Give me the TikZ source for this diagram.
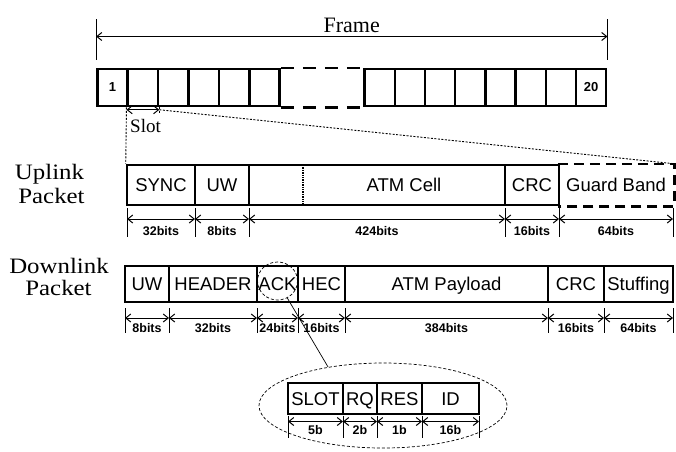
\documentclass[tikz,border=0pt]{standalone}
\usepackage{fontspec}
\setmainfont{Liberation Serif}
\setsansfont{Liberation Sans}
\newfontfamily\wideserif[FakeStretch=1.13]{Liberation Serif}
\usetikzlibrary{arrows.meta,shapes.geometric,calc}
\newcommand\mkcell[7][]{\node[cell,#1,minimum width={(#4-#3)*1pt},minimum height={(#6-#5)*1pt}] (#2) at ({(#3+#4)/2},{(#5+#6)/2}) {#7};}
\begin{document}
\begin{tikzpicture}[x=1pt,y=-1pt,
 cell/.style={draw, line width=2.5pt, rectangle, inner sep=0pt, font=\sffamily\fontsize{18.5}{18.5}\selectfont, text height=13.2pt, text depth=0pt},
 slotbox/.style={draw, line width=2.5pt, inner sep=0pt, minimum width=30.4pt, minimum height=37pt, font=\sffamily\bfseries\fontsize{13}{13}\selectfont},
 dimline/.style={line width=1pt, {Straight Barb[length=5pt,width=8pt]}-{Straight Barb[length=5pt,width=8pt]}},
 tick/.style={line width=0.8pt},
 dimlbl/.style={font=\sffamily\bfseries\fontsize{12.5}{12.5}\selectfont, below=#1, inner sep=0pt},
 proj/.style={line width=0.9pt, dash pattern=on 2pt off 1.5pt},
 biglbl/.style={font=\wideserif\fontsize{22}{22}\selectfont, anchor=base, inner sep=0pt}
]
\useasboundingbox (0,0) rectangle (676,451);

% ---------- frame slots ----------
\node[slotbox] (s1) at (112.5,87.5) {1};
\foreach \i in {2,...,6} \node[slotbox] (s\i) at ({112.5+30.4*(\i-1)},87.5) {};
\foreach \i in {7,...,13} \node[slotbox, minimum width=30.2pt] (s\i) at ({379.7+30.2*(\i-7)},87.5) {};
\node[slotbox, minimum width=30.2pt] (s14) at ({379.7+30.2*7},87.5) {20};
\draw[line width=2.5pt, dash pattern=on 13pt off 9pt] (s6.north east) -- (s7.north west);
\draw[line width=2.5pt, dash pattern=on 13pt off 9pt] (s6.south east) -- (s7.south west);

% ---------- frame dimension ----------
\coordinate (fL) at (s1.north west |- 0,36.5);
\coordinate (fR) at (s14.north east |- 0,36.5);
\draw[tick] ($(fL)+(0,-17.5)$) -- ($(fL)+(0,23.5)$);
\draw[tick] ($(fR)+(0,-17.5)$) -- ($(fR)+(0,23.5)$);
\draw[dimline] (fL) -- node[above=3.5pt, inner sep=0pt, font=\rmfamily\fontsize{22}{22}\selectfont] (framelbl) {Frame} (fR);

% ---------- uplink packet ----------
\mkcell{sync}{127}{195}{165}{205}{SYNC}
\mkcell{ulUW}{195}{249}{165}{205}{UW}
\mkcell{ulatm}{249}{505}{165}{205}{}
\mkcell{ulcrc}{505}{559}{165}{205}{CRC}
\mkcell[draw=none]{gb}{559}{673}{165}{205}{Guard Band}
\node[cell, draw=none] (ulatmlbl) at (404,185) {ATM Cell};
\draw[line width=1.4pt, densely dotted] (303,165) -- (303,205);
\draw[line width=2.5pt, dash pattern=on 10pt off 6pt] (gb.north west) -- (gb.north east) -- (gb.south east) -- (gb.south west);

% slot dimension and projection
\coordinate (slA) at ($(s2.south west)+(0,2.5)$);
\coordinate (slB) at ($(s2.south east)+(0,2.5)$);
\draw[proj] (s2.south west) -- (sync.north west);
\draw[proj] (s2.south east) -- ($(s2.south east)+(0,6)$);
\draw[dimline] (slA) -- (slB);
\draw[proj] (slB) -- (gb.north east);
\node[font=\rmfamily\fontsize{19}{19}\selectfont, anchor=base, inner sep=0pt] (slotlbl) at (145.5,132) {Slot};

% uplink dims
\foreach \n/\x in {u0/127,u1/195,u2/249,u3/505,u4/559,u5/673}{
  \coordinate (\n) at (\x,219);
  \draw[tick] ($(\n)+(0,-11)$) -- ($(\n)+(0,18)$);
}
\draw[dimline] (u0) -- node[dimlbl=7pt] {32bits} (u1);
\draw[dimline] (u1) -- node[dimlbl=7pt] {8bits} (u2);
\draw[dimline] (u2) -- node[dimlbl=7pt] {424bits} (u3);
\draw[dimline] (u3) -- node[dimlbl=7pt] {16bits} (u4);
\draw[dimline] (u4) -- node[dimlbl=7pt] {64bits} (u5);

\node[biglbl] (upl1) at (49.5,179) {Uplink};
\node[biglbl] (upl2) at (51.5,203) {Packet};

% ---------- downlink packet ----------
\mkcell{dlUW}{125}{169}{266}{302}{UW}
\mkcell{hdr}{169}{257}{266}{302}{HEADER}
\mkcell{ack}{257}{298}{266}{302}{ACK}
\mkcell{hec}{298}{345}{266}{302}{HEC}
\mkcell{pay}{345}{548}{266}{302}{ATM Payload}
\mkcell{dlcrc}{548}{604}{266}{302}{CRC}
\mkcell{stf}{604}{673}{266}{302}{Stuffing}

\foreach \n/\x in {d0/125,d1/169,d2/257,d3/298,d4/345,d5/548,d6/604,d7/673}{
  \coordinate (\n) at (\x,318);
  \draw[tick] ($(\n)+(0,-10)$) -- ($(\n)+(0,15)$);
}
\draw[dimline] (d0) -- node[dimlbl=5pt] {8bits} (d1);
\draw[dimline] (d1) -- node[dimlbl=5pt] {32bits} (d2);
\draw[dimline] (d2) -- node[dimlbl=5pt] {24bits} (d3);
\draw[dimline] (d3) -- node[dimlbl=5pt] {16bits} (d4);
\draw[dimline] (d4) -- node[dimlbl=5pt] {384bits} (d5);
\draw[dimline] (d5) -- node[dimlbl=5pt] {16bits} (d6);
\draw[dimline] (d6) -- node[dimlbl=5pt] {64bits} (d7);

\node[biglbl] (dnl1) at (59,273) {Downlink};
\node[biglbl] (dnl2) at (58.5,295) {Packet};

% ---------- ACK detail ----------
\node[ellipse, draw, densely dashed, line width=0.7pt, minimum width=40pt, minimum height=38pt, inner sep=0pt] (ackell) at (277.5,281) {};
\node[ellipse, draw, densely dashed, line width=0.7pt, minimum width=248pt, minimum height=85pt, inner sep=0pt] (bigell) at (383,405.5) {};
\draw[line width=0.7pt] (ackell.-60) -- (bigell.145.5);

\mkcell{islot}{288}{343}{383}{414}{SLOT}
\mkcell{irq}{343}{377}{383}{414}{RQ}
\mkcell{ires}{377}{422}{383}{414}{RES}
\mkcell{iid}{422}{479}{383}{414}{ID}

\foreach \n/\x in {i0/288,i1/343,i2/377,i3/422,i4/479}{
  \coordinate (\n) at (\x,421.5);
  \draw[tick] ($(\n)+(0,-6)$) -- ($(\n)+(0,16)$);
}
\draw[dimline] (i0) -- node[dimlbl=3.5pt] {5b} (i1);
\draw[dimline] (i1) -- node[dimlbl=3.5pt] {2b} (i2);
\draw[dimline] (i2) -- node[dimlbl=3.5pt] {1b} (i3);
\draw[dimline] (i3) -- node[dimlbl=3.5pt] {16b} (i4);
\end{tikzpicture}
\end{document}
